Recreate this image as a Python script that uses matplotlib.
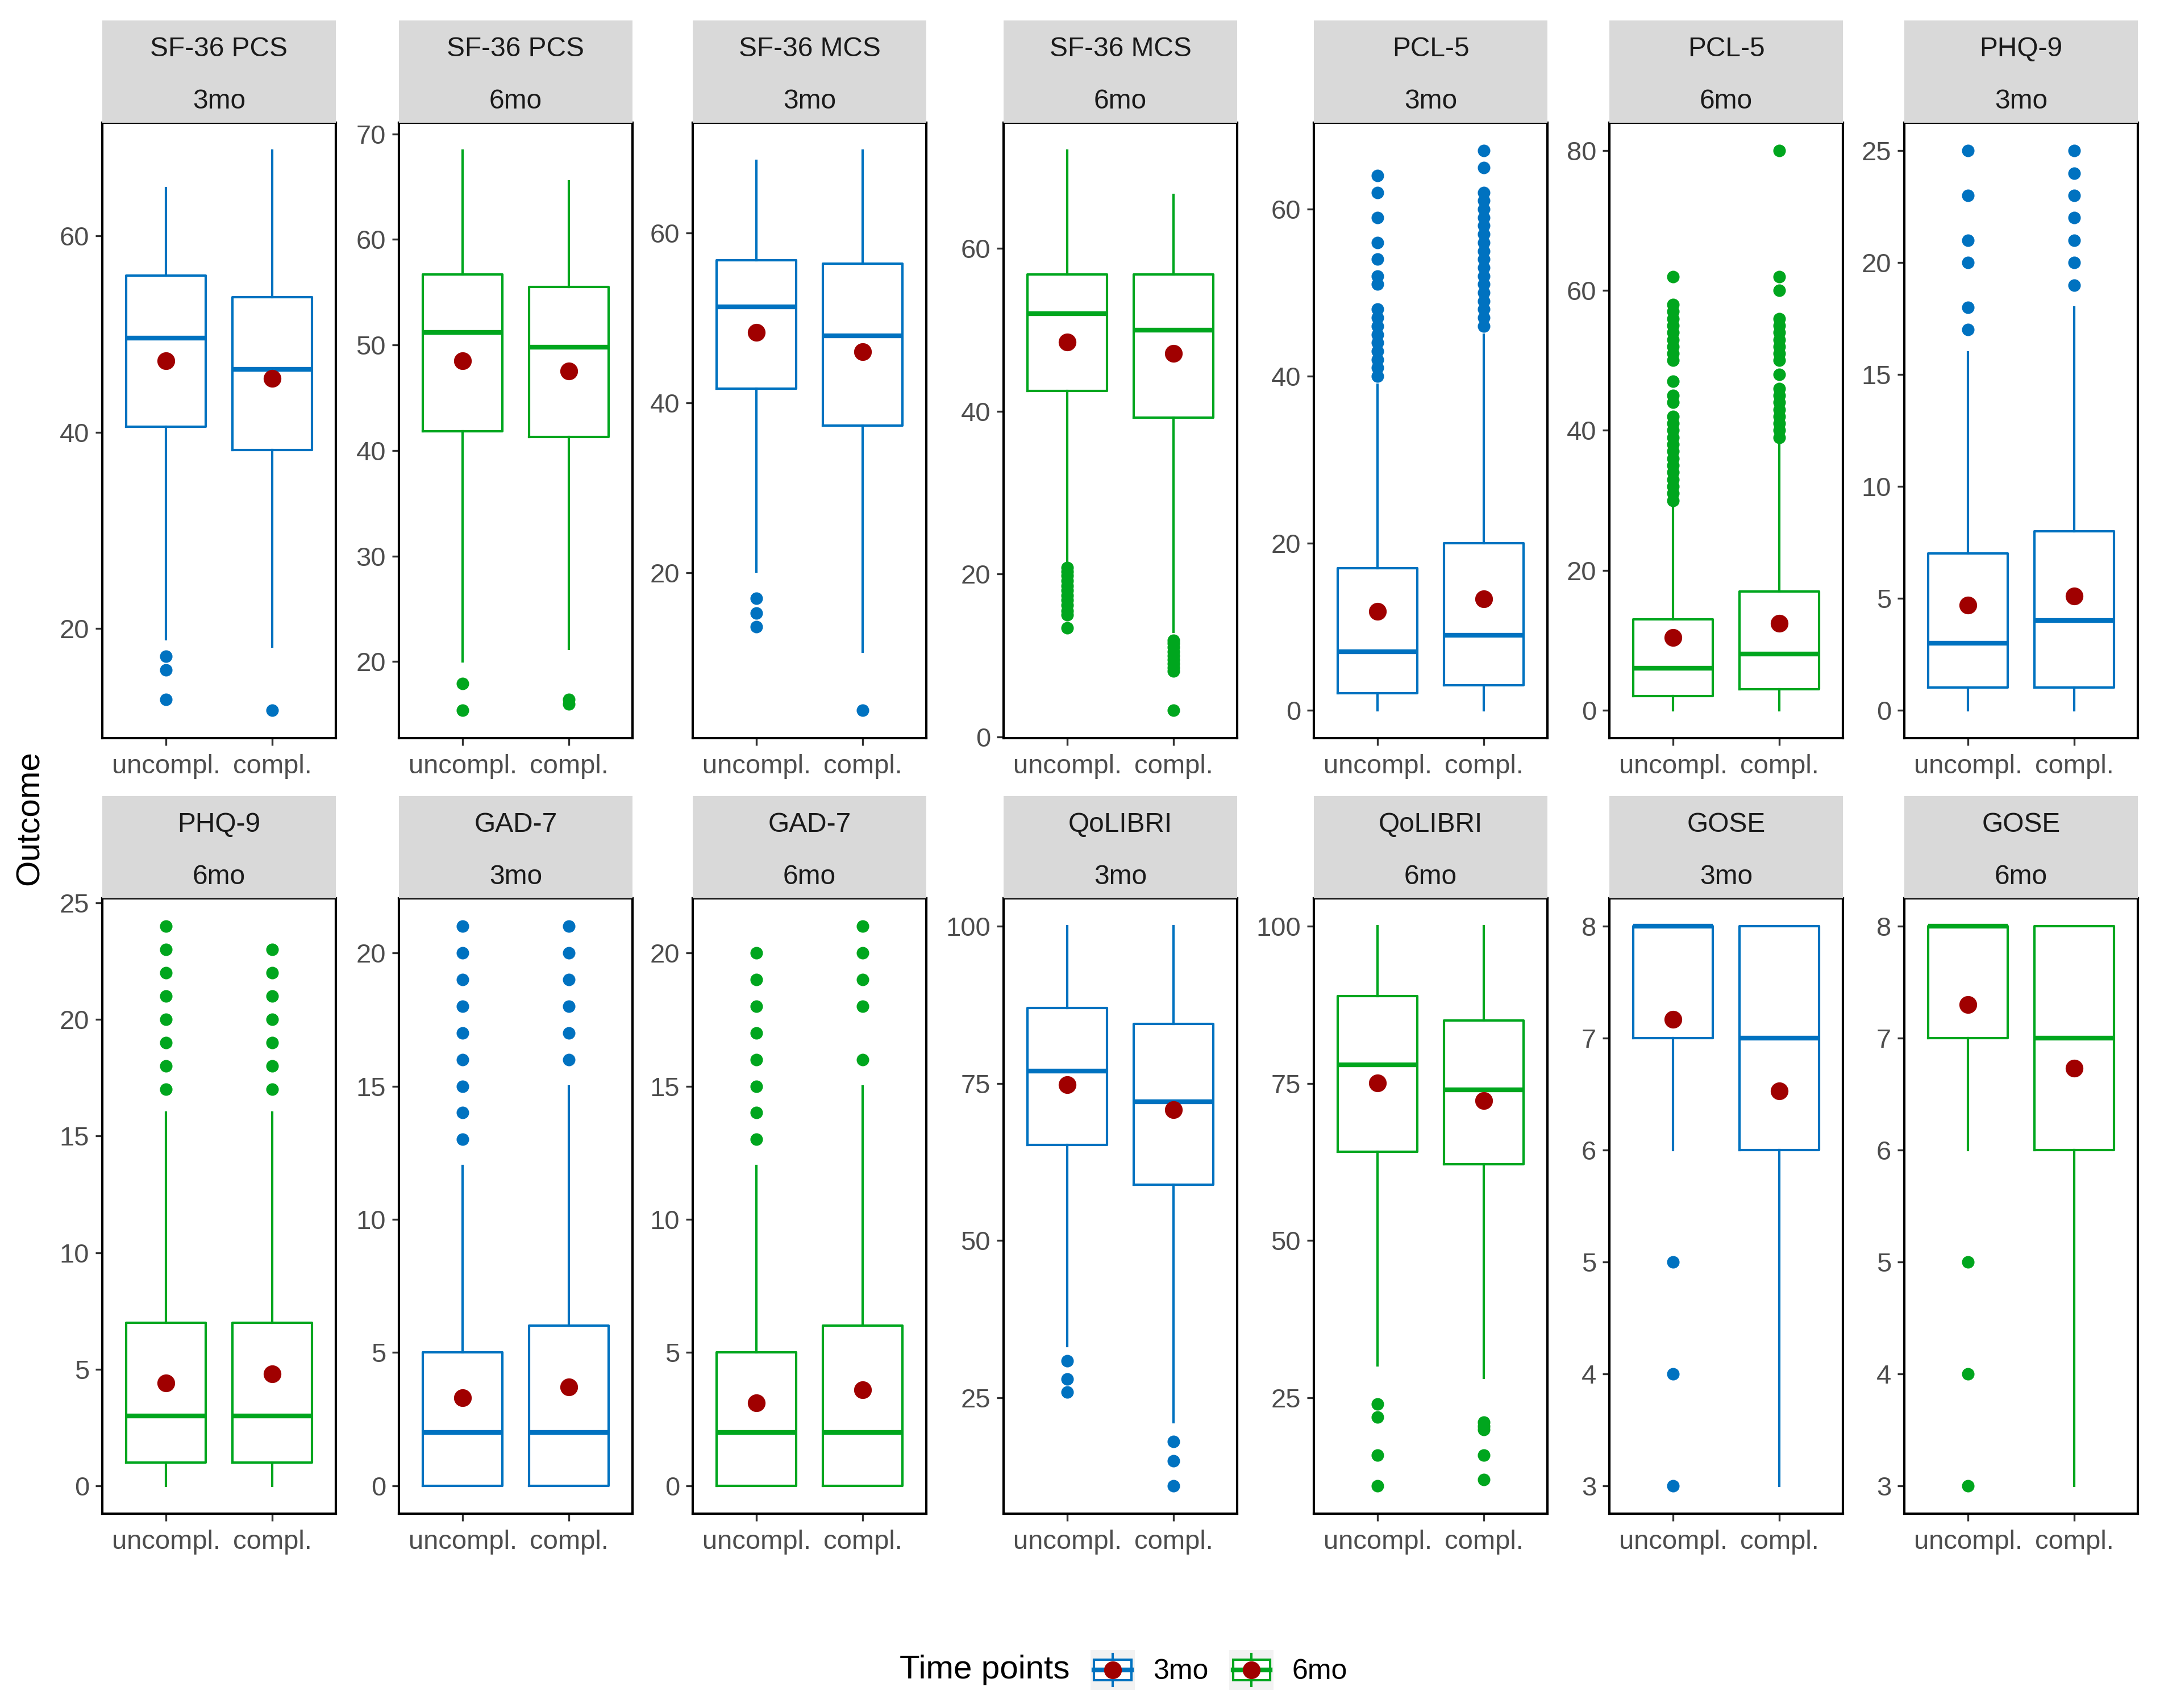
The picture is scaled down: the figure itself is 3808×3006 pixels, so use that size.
import numpy as np
import matplotlib.pyplot as plt
from matplotlib.legend_handler import HandlerBase
from matplotlib.lines import Line2D
from matplotlib.patches import Rectangle

plt.rcParams['font.family'] = ['Liberation Sans', 'DejaVu Sans']

# facets: measure x time point, two groups per facet
measure = ["SF-36 PCS", "SF-36 PCS", "SF-36 MCS", "SF-36 MCS", "PCL-5", "PCL-5", "PHQ-9",
           "PHQ-9", "GAD-7", "GAD-7", "QoLIBRI", "QoLIBRI", "GOSE", "GOSE"]
timepoint = ["3mo", "6mo", "3mo", "6mo", "3mo", "6mo", "3mo",
             "6mo", "3mo", "6mo", "3mo", "6mo", "3mo", "6mo"]
groups = ["uncompl.", "compl."]

# box statistics, [uncompl, compl] per facet
whislo = [[18.9, 18.2], [20.0, 21.2], [20.1, 10.7], [21.5, 12.9], [0, 0], [0, 0], [0, 0],
          [0, 0], [0, 0], [0, 0], [33.2, 21.1], [30.1, 28.2], [6, 3], [6, 3]]
q1 = [[40.6, 38.2], [41.8, 41.3], [41.7, 37.3], [42.5, 39.2], [2, 3], [2, 3], [1, 1],
      [1, 1], [0, 0], [0, 0], [65.2, 58.9], [64.1, 62.1], [7, 6], [7, 6]]
med = [[49.6, 46.4], [51.2, 49.8], [51.3, 47.9], [52.0, 50.0], [7, 9], [6, 8], [3, 4],
       [3, 3], [2, 2], [2, 2], [77.0, 72.1], [78.0, 74.0], [8, 7], [8, 7]]
q3 = [[56.0, 53.8], [56.7, 55.5], [56.8, 56.4], [56.8, 56.8], [17, 20], [13, 17], [7, 8],
      [7, 7], [5, 6], [5, 6], [87.0, 84.5], [88.9, 85.0], [8, 8], [8, 8]]
whishi = [[64.9, 68.7], [68.4, 65.5], [68.5, 69.7], [72.0, 66.6], [39, 45], [29, 38], [16, 18],
          [16, 16], [12, 15], [12, 15], [100, 100], [100, 100], [8, 8], [8, 8]]
means = [[47.3, 45.5], [48.5, 47.5], [48.3, 46.0], [48.5, 47.1], [11.8, 13.3], [10.4, 12.4], [4.7, 5.1],
         [4.4, 4.8], [3.3, 3.7], [3.1, 3.6], [74.8, 70.8], [75.1, 72.3], [7.17, 6.53], [7.30, 6.73]]
fliers = [
    [[17.2, 15.8, 12.8], [11.7]],
    [[17.9, 15.4], [16.4, 16.0]],
    [[17.0, 15.2, 13.6], [3.8]],
    [[20.8, 20.3, 19.8, 19.2, 18.6, 18.0, 17.4, 16.8, 16.2, 15.5, 15.0, 13.4],
     [11.9, 11.5, 11.0, 10.5, 10.0, 9.5, 9.0, 8.5, 8.1, 3.3]],
    [[64, 62, 59, 56, 54, 52, 51, 48, 47, 46, 45, 44, 43, 42, 41, 40],
     [67, 65, 62, 61, 60, 59, 58, 57, 56, 55, 54, 53, 52, 51, 50, 49, 48, 47, 46]],
    [[62, 58, 57, 56, 55, 54, 53, 52, 51, 50, 47, 45, 44, 42, 41, 40, 39, 38, 37, 36, 35, 34, 33, 32, 31, 30],
     [80, 62, 60, 56, 55, 54, 53, 52, 51, 50, 48, 46, 45, 44, 43, 42, 41, 40, 39]],
    [[25, 23, 21, 20, 18, 17], [25, 24, 23, 22, 21, 20, 19]],
    [[24, 23, 22, 21, 20, 19, 18, 17], [23, 22, 21, 20, 19, 18, 17]],
    [[21, 20, 19, 18, 17, 16, 15, 14, 13], [21, 20, 19, 18, 17, 16]],
    [[20, 19, 18, 17, 16, 15, 14, 13], [21, 20, 19, 18, 16]],
    [[30.9, 28.0, 25.9], [18.0, 15.0, 11.0]],
    [[24.0, 21.9, 15.9, 11.0], [21.1, 20.5, 19.9, 15.9, 12.0]],
    [[5, 4, 3], []],
    [[5, 4, 3], []],
]
yticks = [[20, 40, 60], [20, 30, 40, 50, 60, 70], [20, 40, 60], [0, 20, 40, 60], [0, 20, 40, 60],
          [0, 20, 40, 60, 80], [0, 5, 10, 15, 20, 25], [0, 5, 10, 15, 20, 25], [0, 5, 10, 15, 20],
          [0, 5, 10, 15, 20], [25, 50, 75, 100], [25, 50, 75, 100], [3, 4, 5, 6, 7, 8], [3, 4, 5, 6, 7, 8]]

colors = {"3mo": "#0072C0", "6mo": "#00A61E"}
mean_col = "#A00000"

# layout in pixels of the 3808x3006 canvas
W, H = 3808, 3006
panel_left = [180, 702, 1219, 1766, 2312, 2832, 3351]
panel_w = 411
row_top = [216, 1581]
row_bot = [1299, 2664]
strip_h = 180


def px_rect(left, top, right, bottom):
    return [left / W, 1 - bottom / H, (right - left) / W, (bottom - top) / H]


fig = plt.figure(figsize=(W / 300, H / 300), dpi=300)

for i in range(len(measure)):
    r, c = divmod(i, 7)
    left = panel_left[c]
    col = colors[timepoint[i]]
    ax = fig.add_axes(px_rect(left, row_top[r], left + panel_w, row_bot[r]))
    stats = []
    for g in range(2):
        stats.append(dict(label=groups[g], whislo=whislo[i][g], q1=q1[i][g], med=med[i][g],
                          q3=q3[i][g], whishi=whishi[i][g], mean=means[i][g], fliers=fliers[i][g]))
    ax.bxp(stats, positions=[1, 2], widths=0.75, showmeans=True, showcaps=False,
           boxprops=dict(color=col, lw=1.0),
           whiskerprops=dict(color=col, lw=1.0),
           medianprops=dict(color=col, lw=2.0, solid_capstyle='butt'),
           flierprops=dict(marker='o', markerfacecolor=col, markeredgecolor=col, markersize=4.3, linestyle='none'),
           meanprops=dict(marker='o', markerfacecolor=mean_col, markeredgecolor=mean_col, markersize=6.5))
    ax.set_xlim(0.4, 2.6)
    ax.set_yticks(yticks[i])
    ax.set_xticks([1, 2], groups)
    ax.tick_params(axis='both', direction='out', length=3, width=0.8, color='#333333',
                   labelcolor='#4D4D4D', labelsize=11.3, pad=2.5)
    ax.tick_params(axis='x', pad=3.8)
    for sp in ax.spines.values():
        sp.set_linewidth(1.0)
        sp.set_color('black')

    # facet strip
    sx = fig.add_axes(px_rect(left, row_top[r] - strip_h, left + panel_w, row_top[r]))
    sx.set_facecolor('#D9D9D9')
    sx.set_xticks([])
    sx.set_yticks([])
    for sp in sx.spines.values():
        sp.set_visible(False)
    sx.text(0.5, 0.72, measure[i], ha='center', va='center', fontsize=11.5, color='#1A1A1A')
    sx.text(0.5, 0.21, timepoint[i], ha='center', va='center', fontsize=11.5, color='#1A1A1A')

fig.text(53 / W, 1 - 1440 / H, "Outcome", rotation=90, ha='center', va='center', fontsize=14)


class BoxKey(HandlerBase):
    def create_artists(self, legend, orig_handle, xdescent, ydescent, width, height, fontsize, trans):
        c = orig_handle.get_color()
        x0, y0 = -xdescent, -ydescent
        cx = x0 + width / 2
        bg = Rectangle((x0, y0), width, height, fc='#F2F2F2', ec='none', transform=trans)
        w1 = Line2D([cx, cx], [y0 + 0.1 * height, y0 + 0.24 * height], color=c, lw=1.0, transform=trans)
        w2 = Line2D([cx, cx], [y0 + 0.76 * height, y0 + 0.9 * height], color=c, lw=1.0, transform=trans)
        box = Rectangle((x0 + 0.08 * width, y0 + 0.24 * height), 0.84 * width, 0.52 * height,
                        fc='white', ec=c, lw=1.0, transform=trans)
        md = Line2D([x0 + 0.08 * width, x0 + 0.92 * width], [y0 + 0.5 * height] * 2, color=c, lw=2.0,
                    transform=trans)
        dot = Line2D([cx], [y0 + 0.5 * height], marker='o', markersize=6.5, markerfacecolor=mean_col,
                     markeredgecolor=mean_col, linestyle='none', transform=trans)
        return [bg, w1, w2, box, md, dot]


handles = [Line2D([], [], color=colors[t]) for t in ["3mo", "6mo"]]
fig.text(1583 / W, 1 - 2939 / H, "Time points", ha='left', va='center', fontsize=14)
fig.legend(handles, ["3mo", "6mo"], handler_map={Line2D: BoxKey()}, loc='center left',
           bbox_to_anchor=(1919 / W, 1 - 2939 / H), ncol=2, frameon=False, fontsize=12,
           handlelength=1.56, handleheight=1.8, handletextpad=0.64, columnspacing=0.74,
           borderpad=0, borderaxespad=0)

fig.savefig("out.png", dpi=300)
